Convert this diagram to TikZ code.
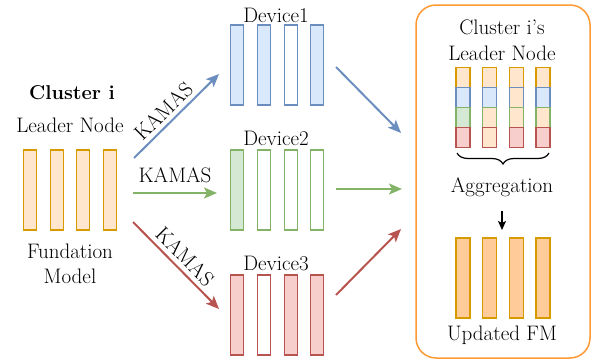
\documentclass[tikz,border=0pt]{standalone}
\usepackage{fontspec}
\usetikzlibrary{arrows.meta,decorations.pathreplacing}
\definecolor{orF}{HTML}{FFE6CC}\definecolor{orS}{HTML}{D79B00}
\definecolor{orD}{HTML}{FFCC99}
\definecolor{blF}{HTML}{DAE8FC}\definecolor{blS}{HTML}{6C8EBF}
\definecolor{grF}{HTML}{D5E8D4}\definecolor{grS}{HTML}{82B366}
\definecolor{rdF}{HTML}{F8CECC}\definecolor{rdS}{HTML}{B85450}
\definecolor{boxS}{HTML}{FF9933}
\tikzset{
  txt/.style={font=\rmfamily\fontsize{21}{24}\selectfont, text=black, inner sep=0pt, align=center},
  bar/.style={draw, line width=1.3pt, minimum width=13pt, minimum height=80pt, inner sep=0pt},
  seg/.style={draw, line width=1.3pt, minimum width=14pt, minimum height=20pt, inner sep=0pt},
  arr/.style={line width=2pt, -{Stealth[length=13pt,width=11pt,inset=3pt]}},
}
\begin{document}
\begin{tikzpicture}[x=1pt,y=-1pt]
\useasboundingbox (0,0) rectangle (594,362);
% left leader node
\node[txt, font=\rmfamily\fontsize{20}{24}\selectfont\bfseries] (cl) at (72,93) {Cluster i};
\node[txt] (ln) at (70,125) {Leader Node};
\foreach \i/\x in {1/30,2/56.7,3/83.3,4/110}
  \node[bar, draw=orS, fill=orF] (L\i) at (\x,190) {};
\node[txt] (fm) at (70,264) {Fundation\\[1pt]Model};
% devices
\node[txt] (d1) at (276,15) {Device1};
\node[txt] (d2) at (276,138) {Device2};
\node[txt] (d3) at (276,263) {Device3};
\foreach \i/\x/\fa/\fb/\fc in {1/237.3/blF/grF/rdF,2/264/blF/white/white,3/290.7/white/white/rdF,4/317.3/blF/white/rdF}{
  \node[bar, draw=blS, fill=\fa] (A\i) at (\x,65) {};
  \node[bar, draw=grS, fill=\fb] (B\i) at (\x,190) {};
  \node[bar, draw=rdS, fill=\fc] (C\i) at (\x,315) {};
}
% left arrows
\coordinate (s1) at (134,158); \coordinate (e1) at (219,74);
\coordinate (s2) at (133,193); \coordinate (e2) at (217,193);
\coordinate (s3) at (133,222); \coordinate (e3) at (219,309);
\draw[arr, blS] (s1) -- (e1) node[txt, pos=0.45, sloped, above=4pt] {KAMAS};
\draw[arr, grS] (s2) -- (e2) node[txt, midway, above=9pt] {KAMAS};
\draw[arr, rdS] (s3) -- (e3) node[txt, pos=0.5, sloped, above=4pt] {KAMAS};
% right box
\node[draw=boxS, line width=1.5pt, rounded corners=20pt, minimum width=174pt, minimum height=353pt, inner sep=0pt] (box) at (503,181.5) {};
% right arrows
\coordinate (t1) at (336,67); \coordinate (u1) at (401,133);
\coordinate (t2) at (336,189); \coordinate (u2) at (402,189);
\coordinate (t3) at (336,295); \coordinate (u3) at (401,229);
\draw[arr, blS] (t1) -- (u1);
\draw[arr, grS] (t2) -- (u2);
\draw[arr, rdS] (t3) -- (u3);
% inside box
\node[txt] (ci) at (502,27) {Cluster i’s};
\node[txt] (cln) at (502,53) {Leader Node};
\foreach \i/\x/\fa/\fb/\fc in {1/463/blF/grF/rdF,2/489.7/blF/orF/orF,3/516.3/orF/orF/rdF,4/543/blF/orF/rdF}{
  \node[seg, draw=orS, fill=orF] (P\i) at (\x,77.7) {};
  \node[seg, draw=blS, fill=\fa] (Q\i) at (\x,97.7) {};
  \node[seg, draw=grS, fill=\fb] (R\i) at (\x,117.7) {};
  \node[seg, draw=rdS, fill=\fc] (S\i) at (\x,137.7) {};
}
\draw[line width=1.2pt, decorate, decoration={brace, amplitude=11pt}] (549,153) -- (457,153);
\node[txt] (ag) at (502,187) {Aggregation};
\coordinate (ab) at (502,230);
\draw[line width=1.5pt, -{Stealth[length=9pt,width=8pt,inset=2pt]}] (502,211) -- (ab);
\foreach \i/\x in {1/463,2/489.7,3/516.3,4/543}
  \node[bar, minimum width=14pt, draw=orS, fill=orD] (U\i) at (\x,278) {};
\node[txt] (uf) at (502,335) {Updated FM};
\end{tikzpicture}
\end{document}
